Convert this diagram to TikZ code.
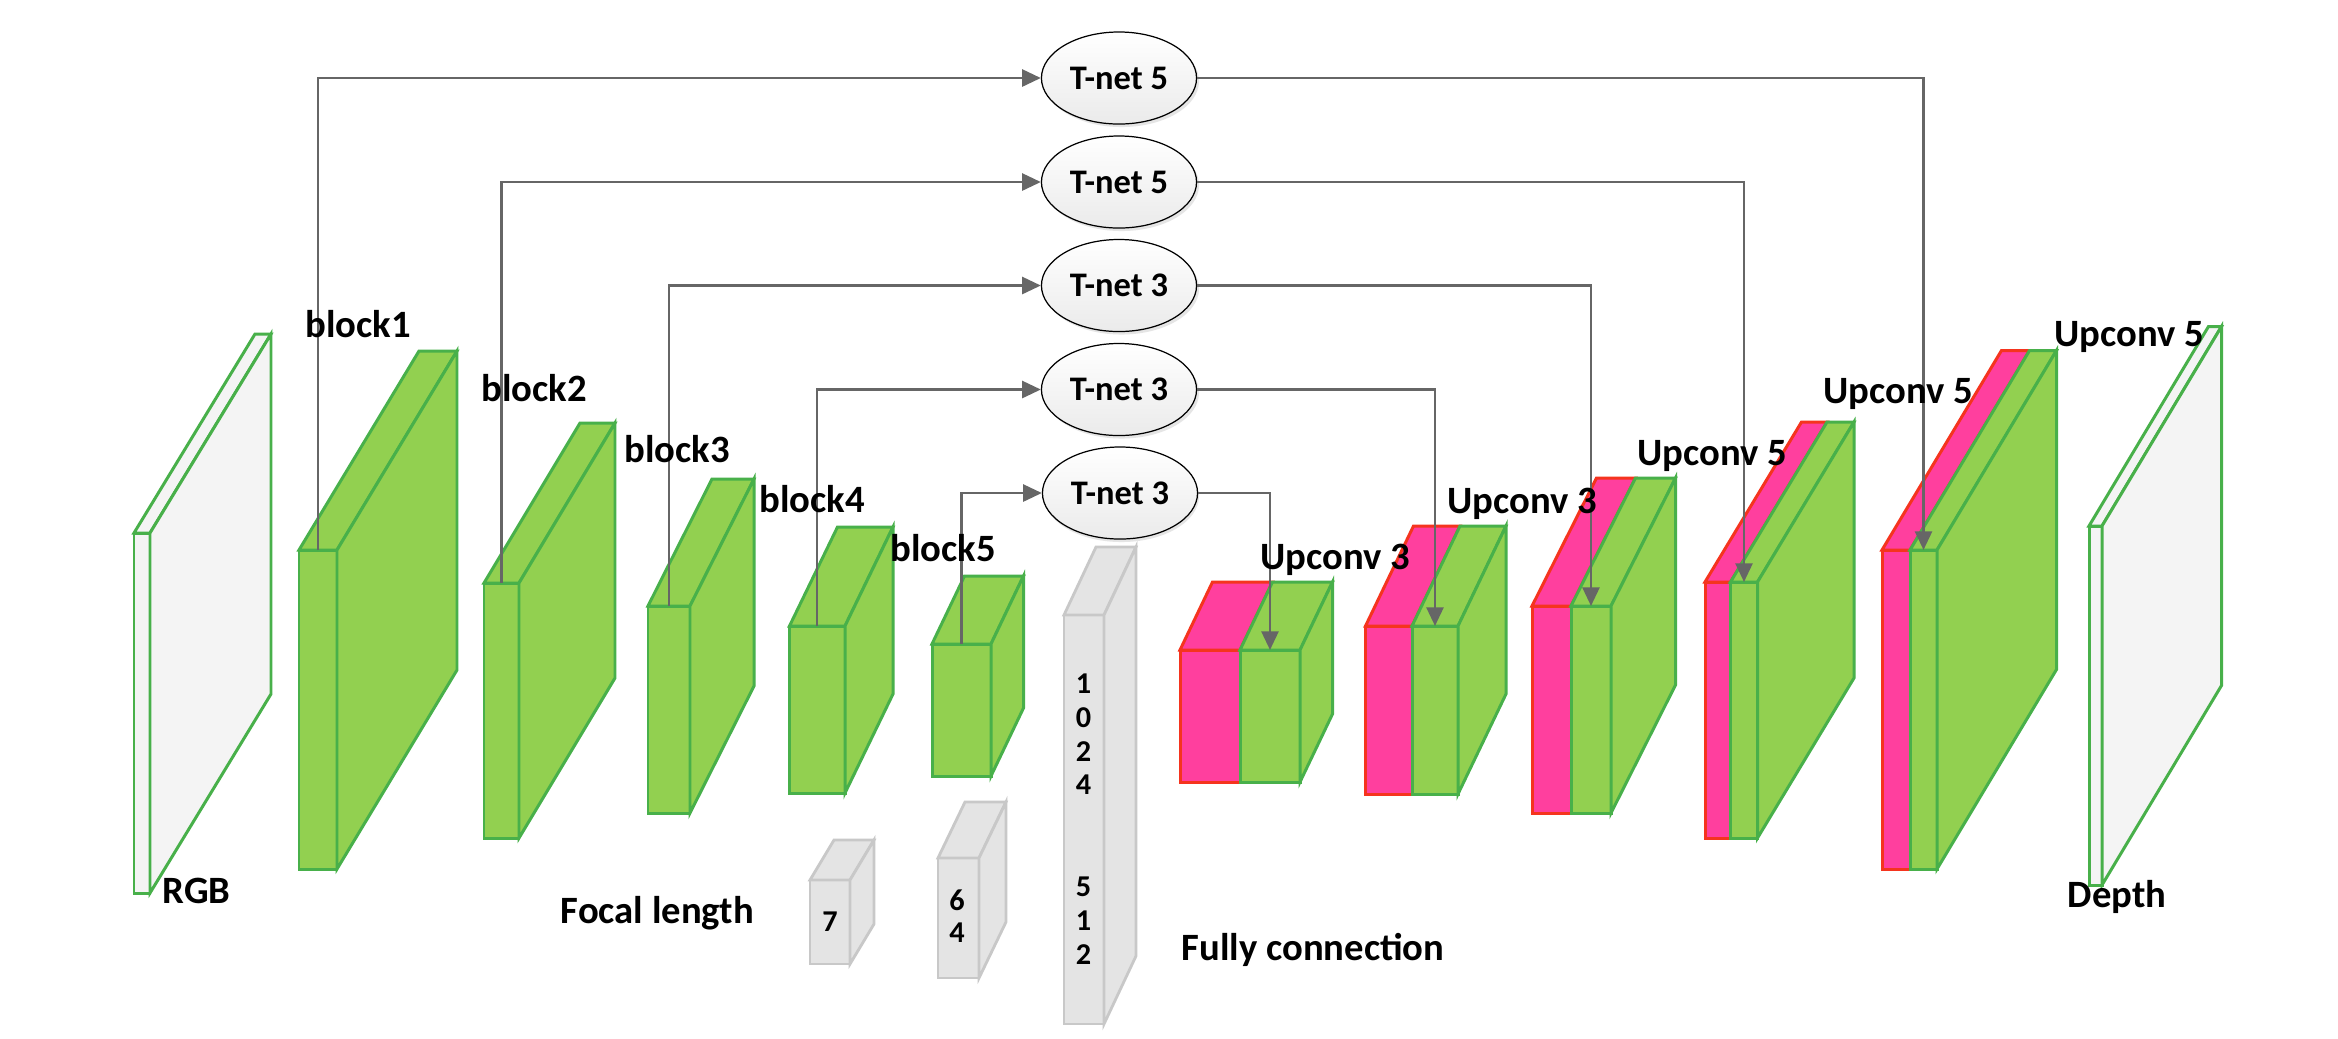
\documentclass[tikz,border=0pt]{standalone}
\usepackage{fontspec}
\setmainfont{Carlito}
\usetikzlibrary{arrows.meta,shapes.geometric}
\definecolor{gfill}{HTML}{92D050}
\definecolor{gline}{HTML}{48B04A}
\definecolor{pfill}{HTML}{FF3F9E}
\definecolor{pline}{HTML}{F5341E}
\definecolor{lgray}{HTML}{F4F4F4}
\definecolor{boxfill}{HTML}{E4E4E4}
\definecolor{boxline}{HTML}{C8C8C8}
\definecolor{conncol}{HTML}{666666}
\tikzset{
  greenst/.style={fill=gfill,draw=gline,line width=0.85pt},
  pinkst/.style={fill=pfill,draw=pline,line width=0.85pt},
  iost/.style={fill=lgray,draw=gline,line width=0.85pt},
  boxst/.style={fill=boxfill,draw=boxline,line width=0.8pt},
  tnet/.style={ellipse,draw=black,line width=0.35pt,top color=white,bottom color=gray!16,
    minimum width=1.55cm,minimum height=0.92cm,inner sep=0pt,
    font=\fontsize{9.8}{11}\selectfont\bfseries},
  tshadow/.style={ellipse,fill=black!10,minimum width=1.55cm,minimum height=0.92cm,inner sep=0pt},
  conn/.style={draw=conncol,line width=0.8pt,-{Triangle[length=5.3pt,width=4.8pt]}},
  lbl/.style={anchor=base west,inner sep=0pt,font=\fontsize{11}{13}\selectfont\bfseries},
  dig/.style={inner sep=0pt,font=\fontsize{8.6}{10}\selectfont\bfseries}
}
% #1 style, #2 L, #3 R, #4 T, #5 B, #6 dx, #7 dy
\newcommand\myslab[7]{%
  \filldraw[#1] (#2,#4) rectangle (#3,#5);
  \filldraw[#1] (#2,#4) -- ++(#6,-#7) -- ++({#3-#2},0) -- (#3,#4) -- cycle;
  \filldraw[#1] (#3,#4) -- ++(#6,-#7) -- ++(0,{#5-#4}) -- (#3,#5) -- cycle;
}
% #1 L, #2 M, #3 R, #4 T, #5 B, #6 dx, #7 dy
\newcommand\myup[7]{%
  \filldraw[pinkst] (#1,#4) rectangle (#2,#5);
  \filldraw[pinkst] (#1,#4) -- ++(#6,-#7) -- ++({#2-#1},0) -- (#2,#4) -- cycle;
  \filldraw[greenst] (#2,#4) rectangle (#3,#5);
  \filldraw[greenst] (#2,#4) -- ++(#6,-#7) -- ++({#3-#2},0) -- (#3,#4) -- cycle;
  \filldraw[greenst] (#3,#4) -- ++(#6,-#7) -- ++(0,{#5-#4}) -- (#3,#5) -- cycle;
}
\begin{document}
\begin{tikzpicture}[x=0.01cm,y=-0.01cm]
\useasboundingbox (0,0) rectangle (2338,1038);
\fill[white] (0,0) rectangle (2338,1038);

% input / output slabs
\myslab{iost}{134}{150}{533}{893}{121}{199}
\myslab{iost}{2089}{2102}{526}{885}{119.5}{199.5}

% encoder blocks
\myslab{greenst}{299}{337}{550}{869}{120}{199}
\myslab{greenst}{484}{519}{583}{838}{96}{160}
\myslab{greenst}{648}{690}{606}{813}{64}{127}
\myslab{greenst}{789.5}{845}{626}{793}{48}{99}
\myslab{greenst}{932}{991}{644}{776}{32.5}{68}

% decoder blocks
\myup{1180}{1240}{1300}{650}{782}{32.5}{68}
\myup{1365.5}{1412}{1458}{626}{794}{48}{100}
\myup{1532}{1571}{1611}{606}{813}{64.5}{128}
\myup{1705}{1730.5}{1757.5}{582}{838}{96.5}{160}
\myup{1882}{1910}{1937}{550}{869}{119.5}{199.5}

% gray boxes
\myslab{boxst}{810}{850}{880}{964}{24}{40}
\myslab{boxst}{938}{979}{858}{978}{27}{56}
\myslab{boxst}{1064}{1104}{615}{1024}{32}{68}

\node[dig] (d7) at (830,922) {7};
\node[dig] (d6) at (957,900) {6};
\node[dig] (d4) at (957,933) {4};
\node[dig] (fa) at (1083.5,684) {1};
\node[dig] (fb) at (1083.5,718) {0};
\node[dig] (fc) at (1083.5,752) {2};
\node[dig] (fd) at (1083.5,785) {4};
\node[dig] (fe) at (1083.5,887) {5};
\node[dig] (ff) at (1083.5,920.5) {1};
\node[dig] (fg) at (1083.5,955) {2};

% connector end points
\coordinate (b1) at (318,550);
\coordinate (b2) at (501.5,583);
\coordinate (b3) at (669,606);
\coordinate (b4) at (817,626);
\coordinate (b5) at (961.5,644);
\coordinate (u1) at (1270,650);
\coordinate (u2) at (1435,626);
\coordinate (u3) at (1591,606);
\coordinate (u4) at (1744,582);
\coordinate (u5) at (1923.5,550);

% T-nets
\foreach \yy/\nm in {78/s1,182/s2,285.5/s3,389.5/s4,493/s5}{
  \node[tshadow] (\nm) at (1121.5,\yy+3) {};
}
\node[tnet] (tn1) at (1119,78) {T-net 5};
\node[tnet] (tn2) at (1119,182) {T-net 5};
\node[tnet] (tn3) at (1119,285.5) {T-net 3};
\node[tnet] (tn4) at (1119,389.5) {T-net 3};
\node[tnet] (tn5) at (1120,493) {T-net 3};

% connectors
\draw[conn] (b1) |- (tn1.west);
\draw[conn] (b2) |- (tn2.west);
\draw[conn] (b3) |- (tn3.west);
\draw[conn] (b4) |- (tn4.west);
\draw[conn] (b5) |- (tn5.west);
\draw[conn] (tn1.east) -| (u5);
\draw[conn] (tn2.east) -| (u4);
\draw[conn] (tn3.east) -| (u3);
\draw[conn] (tn4.east) -| (u2);
\draw[conn] (tn5.east) -| (u1);

% labels
\node[lbl] (l1) at (305,337.5) {block1};
\node[lbl] (l2) at (481,401.5) {block2};
\node[lbl] (l3) at (624,462) {block3};
\node[lbl] (l4) at (759,512) {block4};
\node[lbl] (l5) at (890,561) {block5};
\node[lbl] (lrgb) at (162,903) {RGB};
\node[lbl] (lu1) at (1260,569) {Upconv 3};
\node[lbl] (lu2) at (1447,513) {Upconv 3};
\node[lbl] (lu3) at (1637,465) {Upconv 5};
\node[lbl] (lu4) at (1823,403) {Upconv 5};
\node[lbl] (lu5) at (2054,346) {Upconv 5};
\node[lbl] (ldep) at (2067,907) {Depth};
\node[lbl] (lfoc) at (560,923) {Focal length};
\node[lbl] (lfc) at (1181,960) {Fully connection};
\end{tikzpicture}
\end{document}
